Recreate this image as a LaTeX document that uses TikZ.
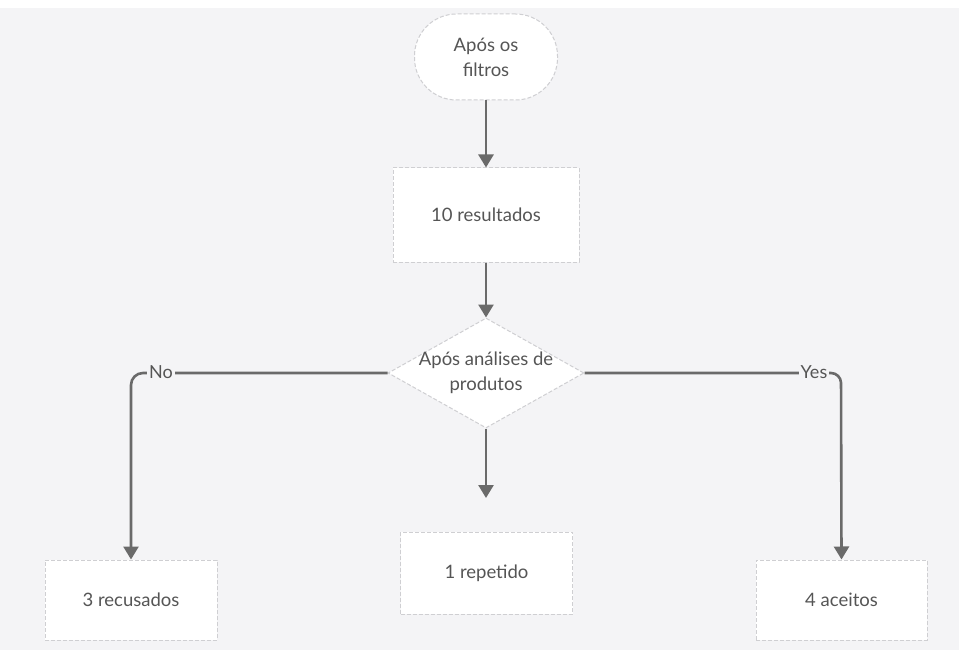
\documentclass[tikz,border=0pt]{standalone}
\usepackage{fontspec}
\setmainfont{Lato}
\usetikzlibrary{arrows.meta,shapes.geometric}
\definecolor{bg}{HTML}{F4F4F6}
\definecolor{bordc}{HTML}{CFCFD2}
\definecolor{linec}{HTML}{6A6A6A}
\definecolor{txtc}{HTML}{555555}
\tikzset{
  box/.style={draw=bordc, fill=white, dashed, dash pattern=on 4pt off 2pt, line width=1pt, text=txtc, font=\fontsize{18.5}{25}\selectfont, align=center, inner sep=0pt},
  plaintext/.style={text=txtc, font=\fontsize{18.5}{25}\selectfont, align=center, inner sep=0pt},
  conn/.style={draw=linec, line width=2.6pt, -{Triangle[width=15pt,length=13pt]}},
  lbl/.style={fill=bg, text=txtc, font=\fontsize{18}{20}\selectfont, inner sep=2pt}
}
\begin{document}
\begin{tikzpicture}[x=1pt,y=-1pt]
\fill[bg] (0,0) rectangle (959,650);
\fill[white] (0,0) rectangle (959,8);
\useasboundingbox (0,0) rectangle (959,650);
\node[box, rounded corners=42pt, minimum width=143pt, minimum height=86pt] (start) at (486,57) {Após os\\filtros};
\node[box, minimum width=186pt, minimum height=94pt] (res) at (486,215) {10 resultados};
\node[box, diamond, aspect=1.78, minimum width=196pt, minimum height=110pt, inner sep=0pt] (dec) at (486,373) {};
\node[plaintext] (dectext) at (dec.center) {Após análises de\\produtos};
\node[box, minimum width=172pt, minimum height=82pt] (rep) at (486.5,573) {1 repetido};
\node[box, minimum width=172pt, minimum height=80pt] (rec) at (131,600) {3 recusados};
\node[box, minimum width=171pt, minimum height=80pt] (ace) at (841.5,600) {4 aceitos};
\coordinate (repin) at (486,498);
\coordinate (lcorner) at (131,373);
\coordinate (rcorner) at (841,373);
\draw[conn] (start.south) -- (res.north);
\draw[conn] (res.south) -- (dec.north);
\draw[conn] (dec.south) -- (repin);
\draw[conn, rounded corners=12pt] (dec.west) -- (lcorner) -- (rec.north);
\draw[conn, rounded corners=10pt] (dec.east) -- (rcorner) -- (ace.north);
\node[lbl] (no) at (161,372) {No};
\node[lbl] (yes) at (814,372) {Yes};
\end{tikzpicture}
\end{document}
